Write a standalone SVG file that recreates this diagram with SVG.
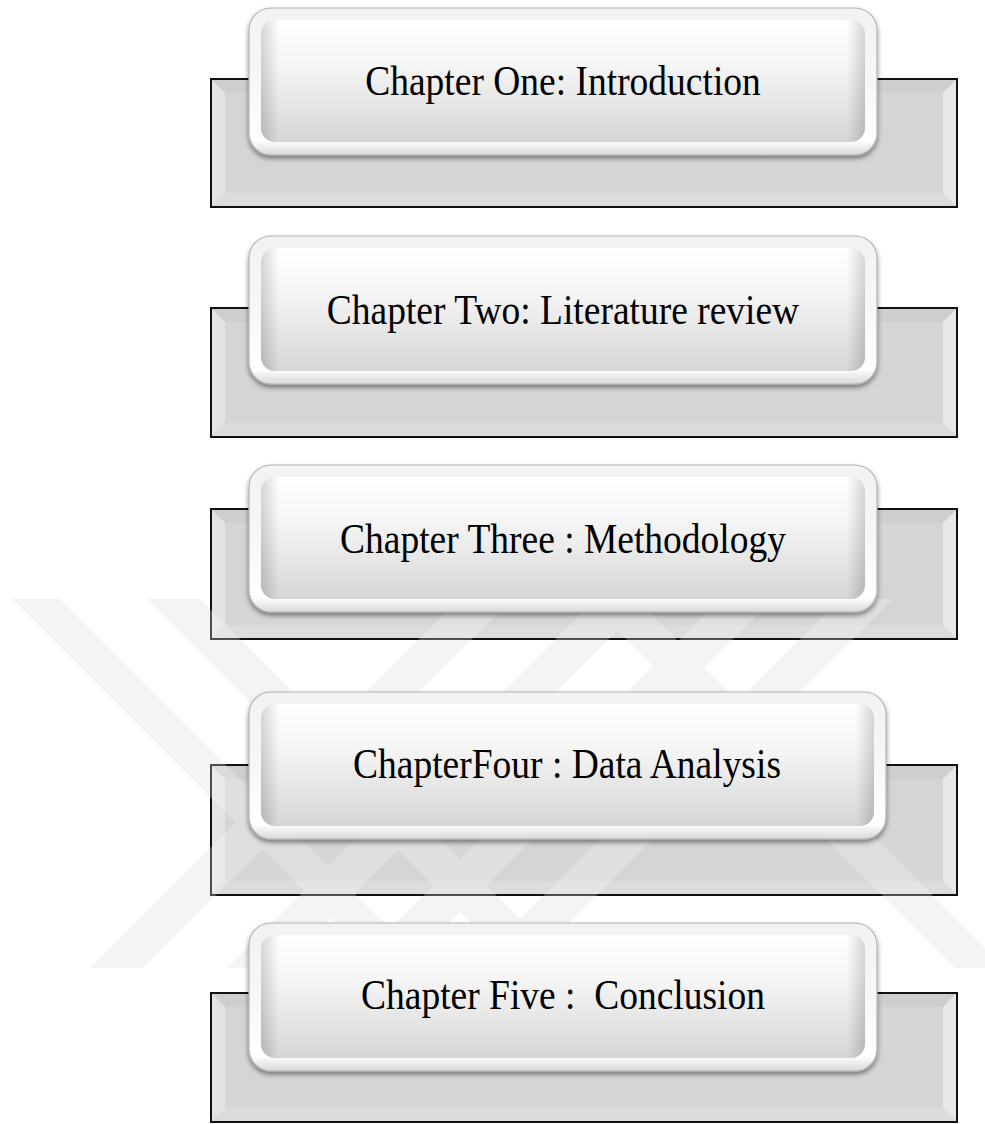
<svg xmlns="http://www.w3.org/2000/svg" width="985" height="1124" viewBox="0 0 985 1124">
  <defs>
    <style>
      .wm { fill: #f1f1f1; }
      .wm2 { fill: #ffffff; opacity: 0.25; }
      .face { fill: #d5d5d5; }
      .bl { fill: #e3e3e3; }
      .br { fill: #e8e8e8; }
      .bb { fill: #dcdcdc; }
      .bt { fill: #cecece; }
      .frame { fill: none; stroke: #111111; stroke-width: 2; }
      .rim { fill: url(#rimGrad); stroke: #b3b3b3; stroke-width: 1.2; filter: url(#shadow); }
      .inner { fill: url(#faceGrad); }
      .side { fill: url(#sideGrad); }
      .lbl { font-family: "Liberation Serif", "Times New Roman", serif; font-size: 37.5px; fill: #000000; text-anchor: middle; white-space: pre; }
    </style>
    <linearGradient id="rimGrad" x1="0" y1="0" x2="0" y2="1">
      <stop offset="0" stop-color="#f2f2f2"/>
      <stop offset="0.5" stop-color="#f7f7f7"/>
      <stop offset="0.9" stop-color="#ffffff"/>
      <stop offset="1" stop-color="#d8d8d8"/>
    </linearGradient>
    <linearGradient id="faceGrad" x1="0" y1="0" x2="0" y2="1">
      <stop offset="0" stop-color="#ffffff"/>
      <stop offset="0.35" stop-color="#f6f6f6"/>
      <stop offset="1" stop-color="#d6d6d6"/>
    </linearGradient>
    <linearGradient id="sideGrad" x1="0" y1="0" x2="1" y2="0">
      <stop offset="0" stop-color="#000000" stop-opacity="0.16"/>
      <stop offset="0.03" stop-color="#000000" stop-opacity="0"/>
      <stop offset="0.97" stop-color="#000000" stop-opacity="0"/>
      <stop offset="1" stop-color="#000000" stop-opacity="0.16"/>
    </linearGradient>
    <filter id="shadow" x="-5%" y="-5%" width="110%" height="120%">
      <feDropShadow dx="0" dy="3" stdDeviation="2.5" flood-color="#000000" flood-opacity="0.45"/>
    </filter>
    <g id="wmShape">
      <polygon points="12,599 60,599 429,968 381,968"/>
      <polygon points="147,599 200,599 569,968 516,968"/>
      <polygon points="459,599 512,599 143,968 90,968"/>
      <polygon points="596,599 649,599 280,968 227,968"/>
      <polygon points="720,599 773,599 404,968 351,968"/>
      <polygon points="840,599 893,599 524,968 471,968"/>
      <polygon points="586,599 636,599 1005,968 955,968"/>
    </g>
  </defs>

  <rect width="985" height="1124" fill="#ffffff"/>

  <g id="watermark" class="wm">
    <use href="#wmShape"/>
  </g>

  <g id="node1">
    <rect class="face" x="211" y="79" width="746" height="128"/>
    <polygon class="bt" points="211,79 225,93 943,93 957,79"/>
    <polygon class="bl" points="211,79 225,93 225,193 211,207"/>
    <polygon class="br" points="957,79 943,93 943,193 957,207"/>
    <polygon class="bb" points="211,207 225,193 943,193 957,207"/>
    <rect class="frame" x="211" y="79" width="746" height="128"/>
  </g>
  <g id="node2">
    <rect class="face" x="211" y="308" width="746" height="129"/>
    <polygon class="bt" points="211,308 225,322 943,322 957,308"/>
    <polygon class="bl" points="211,308 225,322 225,423 211,437"/>
    <polygon class="br" points="957,308 943,322 943,423 957,437"/>
    <polygon class="bb" points="211,437 225,423 943,423 957,437"/>
    <rect class="frame" x="211" y="308" width="746" height="129"/>
  </g>
  <g id="node3">
    <rect class="face" x="211" y="509" width="746" height="130"/>
    <polygon class="bt" points="211,509 225,523 943,523 957,509"/>
    <polygon class="bl" points="211,509 225,523 225,625 211,639"/>
    <polygon class="br" points="957,509 943,523 943,625 957,639"/>
    <polygon class="bb" points="211,639 225,625 943,625 957,639"/>
    <rect class="frame" x="211" y="509" width="746" height="130"/>
  </g>
  <g id="node4">
    <rect class="face" x="211" y="765" width="746" height="130"/>
    <polygon class="bt" points="211,765 225,779 943,779 957,765"/>
    <polygon class="bl" points="211,765 225,779 225,881 211,895"/>
    <polygon class="br" points="957,765 943,779 943,881 957,895"/>
    <polygon class="bb" points="211,895 225,881 943,881 957,895"/>
    <rect class="frame" x="211" y="765" width="746" height="130"/>
  </g>
  <g id="node5">
    <rect class="face" x="211" y="993" width="746" height="129"/>
    <polygon class="bt" points="211,993 225,1007 943,1007 957,993"/>
    <polygon class="bl" points="211,993 225,1007 225,1108 211,1122"/>
    <polygon class="br" points="957,993 943,1007 943,1108 957,1122"/>
    <polygon class="bb" points="211,1122 225,1108 943,1108 957,1122"/>
    <rect class="frame" x="211" y="993" width="746" height="129"/>
  </g>

  <g id="watermark-overlay" class="wm2">
    <use href="#wmShape"/>
  </g>

  <g id="node1-front">
    <rect class="rim" x="249" y="8" width="628" height="147" rx="22"/>
    <rect class="inner" x="261" y="20" width="604" height="122" rx="14"/>
    <rect class="side" x="261" y="20" width="604" height="122" rx="14"/>
    <text class="lbl" transform="translate(563,95) scale(1,1.1)">Chapter One: Introduction</text>
  </g>
  <g id="node2-front">
    <rect class="rim" x="249" y="236" width="628" height="148" rx="22"/>
    <rect class="inner" x="261" y="248" width="604" height="123" rx="14"/>
    <rect class="side" x="261" y="248" width="604" height="123" rx="14"/>
    <text class="lbl" transform="translate(563,324) scale(1,1.1)">Chapter Two: Literature review</text>
  </g>
  <g id="node3-front">
    <rect class="rim" x="249" y="465" width="628" height="147" rx="22"/>
    <rect class="inner" x="261" y="477" width="604" height="122" rx="14"/>
    <rect class="side" x="261" y="477" width="604" height="122" rx="14"/>
    <text class="lbl" transform="translate(563,553) scale(1,1.1)">Chapter Three : Methodology</text>
  </g>
  <g id="node4-front">
    <rect class="rim" x="249" y="692" width="637" height="147" rx="22"/>
    <rect class="inner" x="261" y="704" width="613" height="122" rx="14"/>
    <rect class="side" x="261" y="704" width="613" height="122" rx="14"/>
    <text class="lbl" transform="translate(567,778) scale(1,1.1)">ChapterFour : Data Analysis</text>
  </g>
  <g id="node5-front">
    <rect class="rim" x="249" y="923" width="628" height="148" rx="22"/>
    <rect class="inner" x="261" y="935" width="604" height="123" rx="14"/>
    <rect class="side" x="261" y="935" width="604" height="123" rx="14"/>
    <text class="lbl" transform="translate(563,1009) scale(1,1.1)">Chapter Five :  Conclusion</text>
  </g>

  <g id="connectors"></g>
</svg>
